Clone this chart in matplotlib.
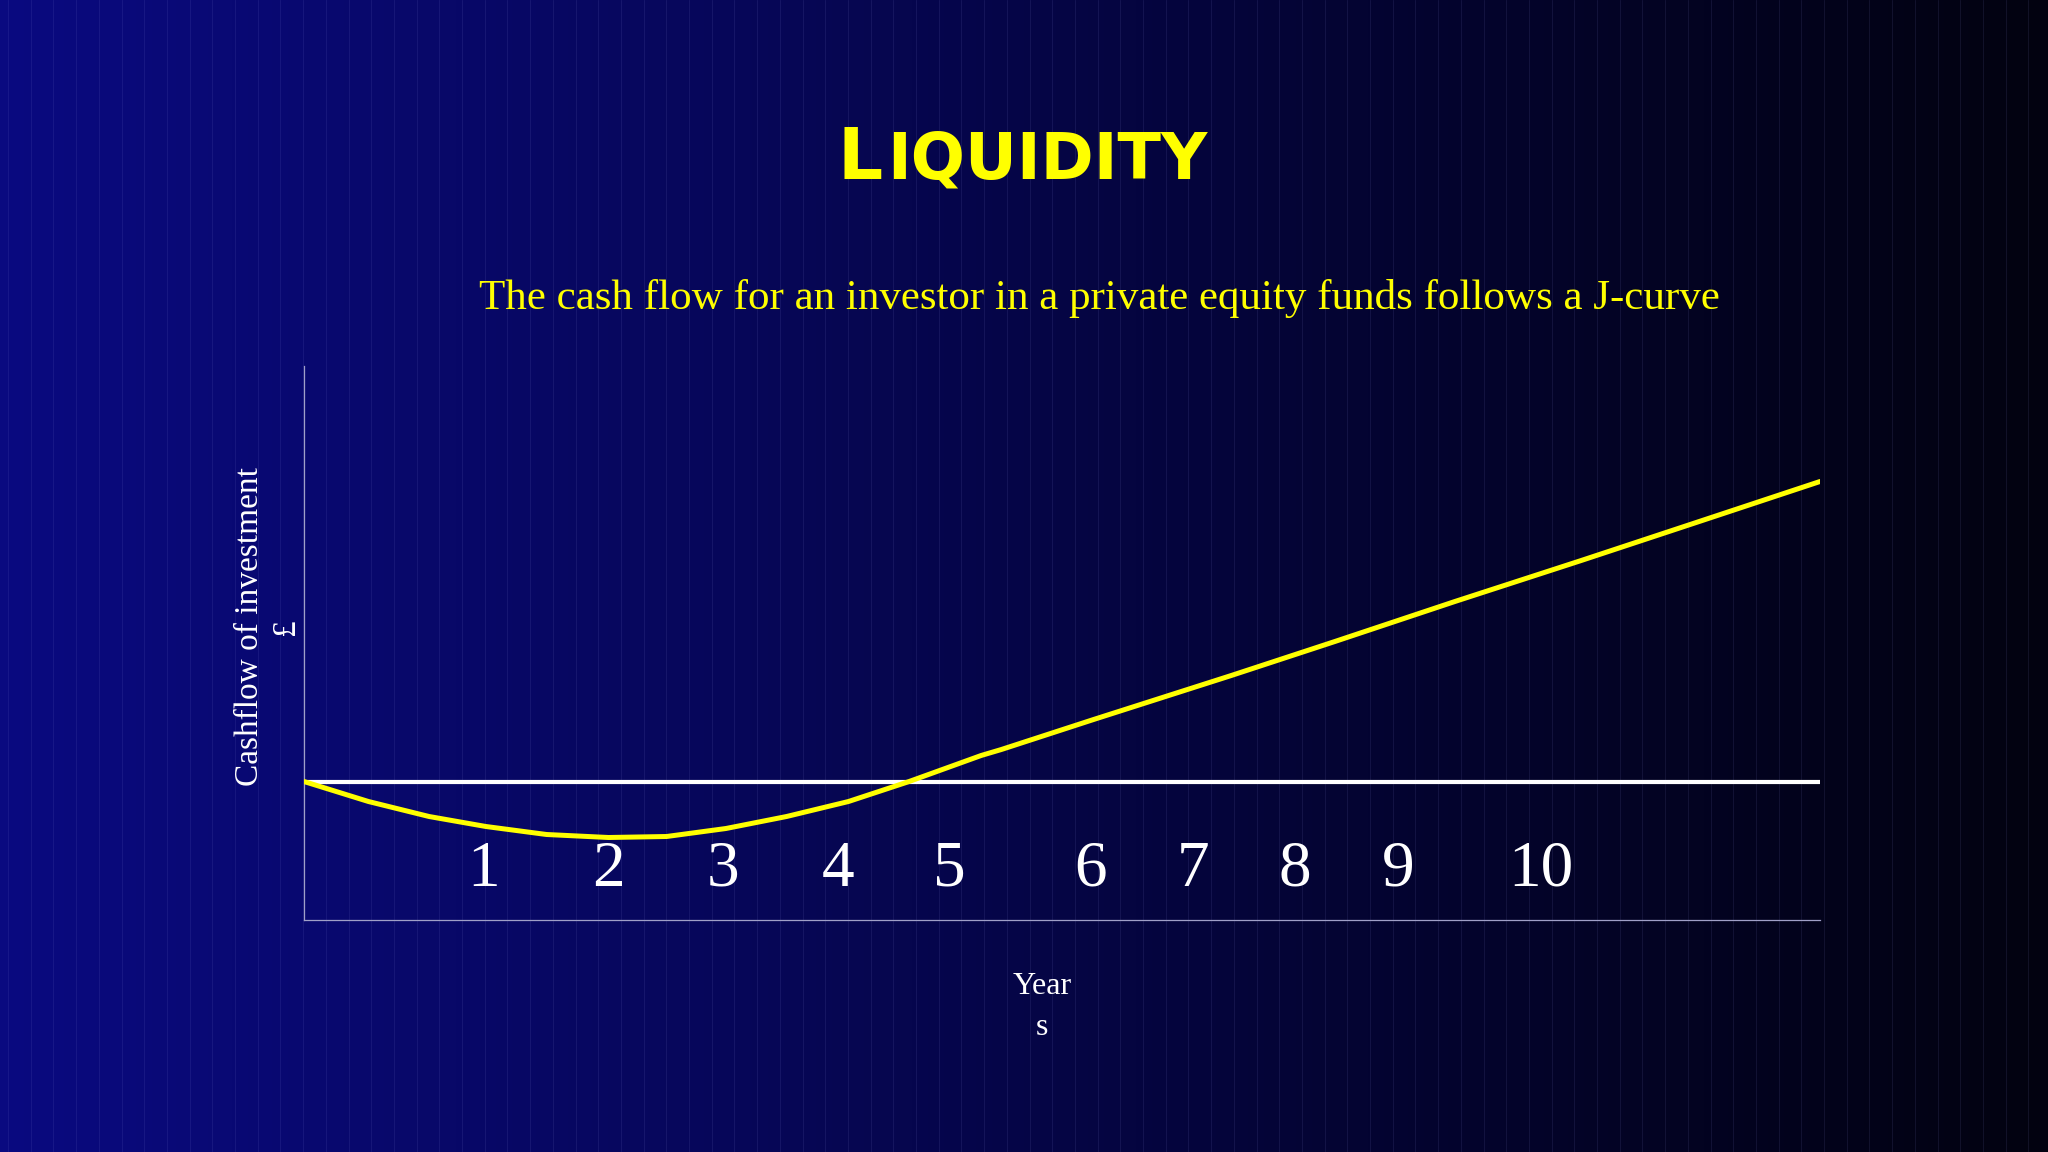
import numpy as np
import matplotlib.pyplot as plt
from matplotlib.colors import LinearSegmentedColormap

# J-curve (x in chart units, 0 = start, y = cashflow, 0 = break-even)
curve_x = [0.0, 0.51, 0.99, 1.44, 1.92, 2.41, 2.87, 3.34, 3.82, 4.31, 4.79,
           5.36, 5.52, 6.25, 7.34, 8.16, 9.11, 10.11, 11.02, 12.0]
curve_y = [0.0, -0.20, -0.35, -0.45, -0.53, -0.56, -0.55, -0.47, -0.35, -0.20, 0.0,
           0.26, 0.32, 0.62, 1.06, 1.40, 1.80, 2.21, 2.59, 3.00]

year_labels = ["1", "2", "3", "4", "5", "6", "7", "8", "9", "10"]
year_pos = [1.42, 2.41, 3.32, 4.23, 5.11, 6.23, 7.04, 7.84, 8.66, 9.79]

title_first = "L"
title_rest = "IQUIDITY"
subtitle = "The cash flow for an investor in a private equity funds follows a J-curve"
ylabel = "Cashflow of investment\n£"
xlabel = "Year\ns"

W, H = 2048, 1152
fig = plt.figure(figsize=(W / 100, H / 100), dpi=100)

# background: blue to black gradient with faint vertical stripes
bg = fig.add_axes([0, 0, 1, 1], zorder=-10)
cmap = LinearSegmentedColormap.from_list("slide", ["#0a0a80", "#07075c", "#040432", "#020210"])
grad = np.linspace(0, 1, 512).reshape(1, -1)
bg.imshow(grad, cmap=cmap, aspect="auto", extent=[0, W, 0, H])
for sx in np.arange(8, W, 22.7):
    bg.plot([sx, sx], [0, H], color="#9090e0", lw=0.6, alpha=0.13)
bg.set_xlim(0, W)
bg.set_ylim(0, H)
bg.axis("off")

def fx(px):
    return px / W

def fy(py):
    return 1 - py / H

# title in small caps style
fig.text(fx(838), fy(179), title_first, color="#ffff00", fontsize=51,
         fontweight="bold", family="DejaVu Sans", va="baseline", ha="left")
fig.text(fx(887), fy(179), title_rest, color="#ffff00", fontsize=46,
         fontweight="bold", family="DejaVu Sans", va="baseline", ha="left")

fig.text(fx(1099), fy(309), subtitle, color="#ffff00", fontsize=31,
         family="Liberation Serif", va="baseline", ha="center")

# chart area
left, right, top, bottom = 304, 1820, 366, 920
ax = fig.add_axes([fx(left), fy(bottom), (right - left) / W, (bottom - top) / H])
ax.patch.set_alpha(0)
ax.set_xlim(0, 12)
ax.set_ylim((781.5 - bottom) / 100, (781.5 - top) / 100)

ax.axhline(0, color="white", lw=3.0, zorder=2)
ax.plot(curve_x, curve_y, color="#ffff00", lw=3.6, zorder=3, solid_capstyle="round")

for lab, xp in zip(year_labels, year_pos):
    ax.text(xp, (781.5 - 886) / 100, lab, color="white", fontsize=47,
            family="Liberation Serif", ha="center", va="baseline")

for s in ["top", "right"]:
    ax.spines[s].set_visible(False)
for s in ["left", "bottom"]:
    ax.spines[s].set_color("#a0a0c8")
    ax.spines[s].set_linewidth(0.9)
ax.set_xticks([])
ax.set_yticks([])

fig.text(fx(268), fy(627), ylabel, color="white", fontsize=24, rotation=90,
         family="Liberation Serif", ha="center", va="center", linespacing=1.25)
fig.text(fx(1042), fy(1007), xlabel, color="white", fontsize=23,
         family="Liberation Serif", ha="center", va="center", linespacing=1.55)

fig.savefig("out.png", dpi=100)
